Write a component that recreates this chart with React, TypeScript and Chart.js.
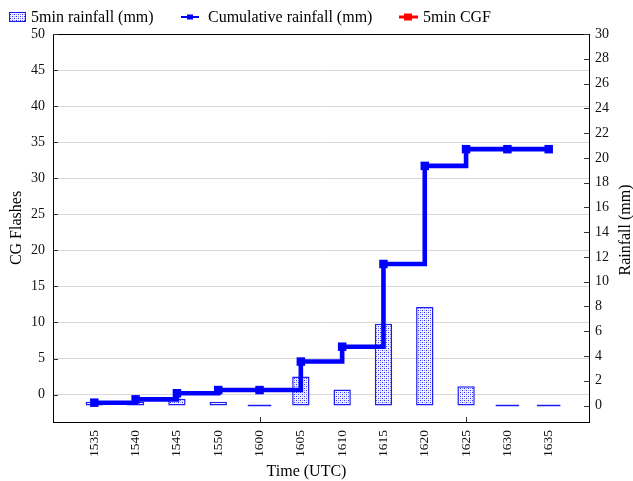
import React, { useEffect, useRef } from 'react';
import { Chart, registerables } from 'chart.js';

Chart.register(...registerables);

// ---- data ----
const times: string[] = ['1535', '1540', '1545', '1550', '1600', '1605', '1610', '1615', '1620', '1625', '1630', '1635'];
const rain5min: number[] = [0.3, 0.3, 0.55, 0.3, 0, 2.35, 1.3, 6.6, 7.95, 1.55, 0, 0];
const cumulativeRain: number[] = [0.23, 0.5, 0.99, 1.25, 1.25, 3.55, 4.75, 11.43, 19.35, 20.7, 20.7, 20.7];
const cgf5min: (number | null)[] = [null, null, null, null, null, null, null, null, null, null, null, null];
const majorTickTimes: string[] = ['1600', '1625'];

const legendLabels = ['5min rainfall (mm)', 'Cumulative rainfall (mm)', '5min CGF'];
const axisTitles = { left: 'CG Flashes', right: 'Rainfall (mm)', bottom: 'Time (UTC)' };

const FONT = "'Liberation Serif', 'Times New Roman', serif";
const BLUE = '#0000ff';
const BAR_BORDER = '#1c1cf2';
const RED = '#ff0000';

function makePattern(): CanvasPattern | string {
  const c = document.createElement('canvas');
  c.width = 4;
  c.height = 4;
  const g = c.getContext('2d');
  if (!g) return '#ccccff';
  g.fillStyle = '#f2f2ff';
  g.fillRect(0, 0, 4, 4);
  g.fillStyle = '#2a2aff';
  g.fillRect(0, 0, 1, 1);
  g.fillRect(2, 2, 1, 1);
  g.fillStyle = '#9c9cff';
  g.fillRect(2, 0, 1, 1);
  g.fillRect(0, 2, 1, 1);
  const p = g.createPattern(c, 'repeat');
  return p || '#ccccff';
}

export default function App() {
  const ref = useRef<HTMLCanvasElement | null>(null);

  useEffect(() => {
    const canvas = ref.current;
    if (!canvas) return;
    const pattern = makePattern();

    // pad categories with empty slots at both ends
    const labels = ['', ...times, ''];
    const pad = <T,>(arr: T[]) => [null, ...arr, null];

    const decorPlugin = {
      id: 'decor',
      beforeDatasetsDraw(chart: any) {
        // zero-valued bars drawn as a flat line at the base
        const ctx = chart.ctx as CanvasRenderingContext2D;
        const meta = chart.getDatasetMeta(2);
        const y1 = chart.scales.y1;
        const base = y1.getPixelForValue(0);
        ctx.save();
        ctx.strokeStyle = BAR_BORDER;
        ctx.lineWidth = 1.5;
        ctx.beginPath();
        meta.data.forEach((el: any, i: number) => {
          const v = chart.data.datasets[2].data[i];
          if (v === 0) {
            const w = el.width * 1.35;
            ctx.moveTo(el.x - w / 2, base);
            ctx.lineTo(el.x + w / 2, base);
          }
        });
        ctx.stroke();
        ctx.restore();
      },
      afterDatasetsDraw(chart: any) {
        const ctx = chart.ctx as CanvasRenderingContext2D;
        const a = chart.chartArea;
        const y = chart.scales.y;
        const y1 = chart.scales.y1;
        const x = chart.scales.x;
        ctx.save();
        // frame
        ctx.strokeStyle = '#000';
        ctx.lineWidth = 1;
        ctx.strokeRect(Math.round(a.left) + 0.5, Math.round(a.top) + 0.5, Math.round(a.right - a.left) - 1, Math.round(a.bottom - a.top));
        // inner tick marks
        ctx.strokeStyle = '#333';
        ctx.beginPath();
        y.ticks.forEach((t: any) => {
          const py = Math.round(y.getPixelForValue(t.value)) + 0.5;
          ctx.moveTo(a.left, py);
          ctx.lineTo(a.left + 5, py);
        });
        y1.ticks.forEach((t: any) => {
          const py = Math.round(y1.getPixelForValue(t.value)) + 0.5;
          ctx.moveTo(a.right - 6, py);
          ctx.lineTo(a.right - 1, py);
        });
        majorTickTimes.forEach((tm) => {
          const idx = labels.indexOf(tm);
          const px = Math.round(x.getPixelForValue(idx)) + 0.5;
          ctx.moveTo(px, a.bottom);
          ctx.lineTo(px, a.bottom - 5);
        });
        ctx.stroke();
        ctx.restore();
      },
      afterDraw(chart: any) {
        const ctx = chart.ctx as CanvasRenderingContext2D;
        const a = chart.chartArea;
        ctx.save();
        ctx.fillStyle = '#000';
        ctx.font = `16px ${FONT}`;
        ctx.textAlign = 'center';
        ctx.textBaseline = 'middle';
        // axis titles
        ctx.save();
        ctx.translate(17, (a.top + a.bottom) / 2);
        ctx.rotate(-Math.PI / 2);
        ctx.fillText(axisTitles.left, 0, 0);
        ctx.restore();
        ctx.save();
        ctx.translate(626, (a.top + a.bottom) / 2 + 2);
        ctx.rotate(-Math.PI / 2);
        ctx.fillText(axisTitles.right, 0, 0);
        ctx.restore();
        ctx.fillText(axisTitles.bottom, (a.left + a.right) / 2 - 15, 472);

        // legend
        ctx.textAlign = 'left';
        const ly = 17;
        // item 1: patterned box
        ctx.fillStyle = pattern as any;
        ctx.fillRect(9, 12, 17, 10);
        ctx.strokeStyle = BAR_BORDER;
        ctx.lineWidth = 1;
        ctx.strokeRect(9.5, 12.5, 16, 9);
        ctx.fillStyle = '#000';
        ctx.fillText(legendLabels[0], 31, ly + 0.5);
        // item 2: blue line + small marker
        ctx.strokeStyle = BLUE;
        ctx.lineWidth = 2;
        ctx.beginPath();
        ctx.moveTo(181, ly);
        ctx.lineTo(199, ly);
        ctx.stroke();
        ctx.fillStyle = BLUE;
        ctx.fillRect(187, ly - 2.5, 6, 5);
        ctx.fillStyle = '#000';
        ctx.fillText(legendLabels[1], 208, ly + 0.5);
        // item 3: red line + marker
        ctx.strokeStyle = RED;
        ctx.lineWidth = 3;
        ctx.beginPath();
        ctx.moveTo(399, ly);
        ctx.lineTo(418, ly);
        ctx.stroke();
        ctx.fillStyle = RED;
        ctx.fillRect(404, ly - 3.5, 8, 7);
        ctx.fillStyle = '#000';
        ctx.fillText(legendLabels[2], 423, ly + 0.5);
        ctx.restore();
      },
    };

    const chart = new Chart(canvas, {
      type: 'bar',
      data: {
        labels,
        datasets: [
          {
            type: 'line',
            label: legendLabels[1],
            data: pad(cumulativeRain) as any,
            yAxisID: 'y1',
            borderColor: BLUE,
            backgroundColor: BLUE,
            borderWidth: 4.6,
            stepped: true,
            pointStyle: 'rect',
            pointRadius: 6,
            pointBackgroundColor: BLUE,
            pointBorderWidth: 0,
            order: 1,
            spanGaps: false,
          },
          {
            type: 'line',
            label: legendLabels[2],
            data: pad(cgf5min) as any,
            yAxisID: 'y',
            borderColor: RED,
            backgroundColor: RED,
            borderWidth: 3,
            pointStyle: 'rect',
            pointRadius: 4,
            order: 0,
          },
          {
            type: 'bar',
            label: legendLabels[0],
            data: pad(rain5min) as any,
            yAxisID: 'y1',
            backgroundColor: pattern as any,
            borderColor: BAR_BORDER,
            borderWidth: 1.5,
            borderSkipped: false,
            barPercentage: 0.42,
            categoryPercentage: 1,
            order: 2,
          },
        ],
      },
      options: {
        responsive: false,
        animation: false,
        devicePixelRatio: 1,
        layout: { padding: { top: 34, left: 0, right: 0, bottom: 0 } },
        plugins: {
          legend: { display: false },
          tooltip: { enabled: false },
        },
        events: [],
        scales: {
          x: {
            type: 'category',
            offset: false,
            grid: { display: false, drawTicks: false },
            border: { display: false },
            ticks: {
              autoSkip: false,
              minRotation: 90,
              maxRotation: 90,
              padding: 8,
              color: '#111',
              font: { family: FONT, size: 13.5 },
            },
            afterFit: (s: any) => {
              s.height = 59;
              s.paddingLeft = 0;
              s.paddingRight = 0;
            },
          },
          y: {
            type: 'linear',
            position: 'left',
            min: -3.8,
            max: 50,
            grid: { color: '#d9d9d9', lineWidth: 1, drawTicks: false },
            border: { display: false },
            ticks: {
              stepSize: 5,
              includeBounds: false,
              padding: 8,
              color: '#111',
              font: { family: FONT, size: 14 },
            },
            afterFit: (s: any) => {
              s.width = 53;
              s.paddingTop = 0;
              s.paddingBottom = 0;
            },
          },
          y1: {
            type: 'linear',
            position: 'right',
            min: -1.33,
            max: 30,
            grid: { display: false, drawTicks: false },
            border: { display: false },
            ticks: {
              stepSize: 2,
              includeBounds: false,
              padding: 5,
              color: '#111',
              font: { family: FONT, size: 14 },
            },
            afterFit: (s: any) => {
              s.width = 43;
              s.paddingTop = 0;
              s.paddingBottom = 0;
            },
          },
        },
      },
      plugins: [decorPlugin],
    } as any);

    return () => chart.destroy();
  }, []);

  return (
    <div style={{ position: 'absolute', left: 0, top: 0, width: 633, height: 481, background: '#fff' }}>
      <canvas ref={ref} width={633} height={481} style={{ display: 'block' }} />
    </div>
  );
}
